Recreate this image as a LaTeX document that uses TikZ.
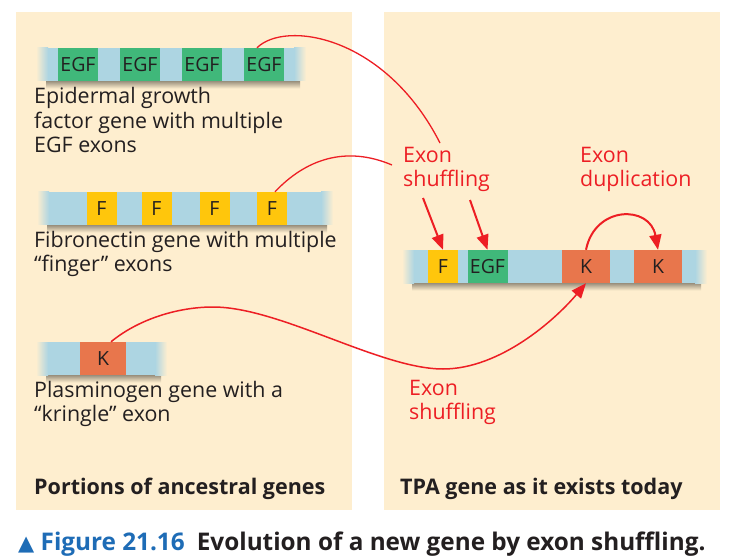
\documentclass[tikz,border=0pt]{standalone}
\usepackage{fontspec}
\setmainfont{Open Sans}
\newfontfamily\symfont{DejaVu Sans}
\usetikzlibrary{arrows.meta,positioning}

\begin{document}
\begin{tikzpicture}[x=1pt,y=-1pt,
  exon/.style={inner sep=0pt,minimum height=33pt,text=ink,font=\fontsize{19.5}{22}\selectfont},
  desc/.style={anchor=north west,align=left,inner sep=0pt,text=ink,font=\fontsize{21.4}{24.2}\selectfont},
  redlabel/.style={desc,text=shufred},
  panelname/.style={anchor=north west,inner sep=0pt,text=ink,font=\bfseries\fontsize{21.5}{24}\selectfont},
  shuffle/.style={draw=shufred,line width=1.3pt},
  push/.style={draw=shufred,line width=2pt,-{Triangle[length=15pt,width=12pt]}}]
% Define gene colours
\definecolor{panel}{RGB}{254,238,207}
\definecolor{barblue}{RGB}{173,213,226}
\definecolor{egfgreen}{RGB}{64,184,122}
\definecolor{fyellow}{RGB}{255,198,12}
\definecolor{kringle}{RGB}{232,118,76}
\definecolor{shufred}{RGB}{237,30,36}
\definecolor{figblue}{RGB}{30,108,182}
\definecolor{ink}{RGB}{35,31,32}

% Page and panels
\fill[white] (0,0) rectangle (736,556);
\fill[panel] (16,12) rectangle (352,510);
\fill[panel] (384,12) rectangle (720,510);

% Gene bars with soft ends and shadow
\foreach \xa/\xb/\yc in {36/306/64.5, 37/333/208.5, 36/167/358.5, 402/707/266.5} {
  \shade[top color=black!40!panel,bottom color=panel] (\xa+10,\yc+16.5) rectangle (\xb-6,\yc+24);
  \shade[left color=panel,right color=barblue] (\xa,\yc-16.5) rectangle (\xa+12,\yc+16.5);
  \fill[barblue] (\xa+12,\yc-16.5) rectangle (\xb-12,\yc+16.5);
  \shade[left color=barblue,right color=panel] (\xb-12,\yc-16.5) rectangle (\xb,\yc+16.5);
}

% Exons of the ancestral genes
\foreach \cx [count=\i] in {78,140,202,264}
  \node[exon,fill=egfgreen,minimum width=40pt] (e\i) at (\cx,64.5) {EGF};
\foreach \cx [count=\i] in {101.5,156.5,214.5,272}
  \node[exon,fill=fyellow,minimum width=30pt] (f\i) at (\cx,208.5) {F};
\node[exon,fill=kringle,minimum width=46pt] (k) at (103,358.5) {K};

% Exons of the TPA gene
\node[exon,fill=fyellow,minimum width=30pt] (tf) at (443,266.5) {F};
\node[exon,fill=egfgreen,minimum width=40pt] (tegf) at (487.5,266.5) {EGF};
\node[exon,fill=kringle,minimum width=48pt] (tk1) at (586,266.5) {K};
\node[exon,fill=kringle,minimum width=48pt] (tk2) at (658,266.5) {K};

% Descriptions
\node[desc] (egftext) at (34,87.5) {Epidermal growth\\factor gene with multiple\\EGF exons};
\node[desc] (fntext) at (34,231) {Fibronectin gene with multiple\\“finger” exons};
\node[desc] (ktext) at (34,381) {Plasminogen gene with a\\“kringle” exon};
\node[panelname] (lefttitle) at (34,477.5) {Portions of ancestral genes};
\node[panelname] (righttitle) at (400,477.5) {TPA gene as it exists today};

% Red labels
\node[redlabel] (shufA) at (403,147) {Exon\\shuffling};
\node[redlabel] (dup) at (580,147) {Exon\\duplication};
\node[redlabel] (shufB) at (409,380) {Exon\\shuffling};

% Ends of the paths at the label
\coordinate (egfend) at (440,143);
\coordinate (fnend) at (392,165);
\coordinate (ftail) at (423,198);
\coordinate (egftail) at (470,200);

% Shuffling and duplication paths
\draw[shuffle] ([xshift=-7pt]e4.north) .. controls (285,20) and (385,35) .. (egfend);
\draw[shuffle] ([xshift=3pt]f4.north) .. controls (305,160) and (345,145) .. (fnend);
\draw[push] (ftail) -- (tf.north);
\draw[push] (egftail) -- (tegf.north);
\draw[push] (tk1.north) .. controls (595,205) and (650,205) .. (tk2.north);
\draw[shuffle,line width=1.5pt,-{Triangle[length=15pt,width=12pt]}] ([xshift=8pt]k.north)
  .. controls (140,318) and (180,307) .. (213,307)
  .. controls (280,307) and (380,369) .. (443,369)
  .. controls (500,369) and (555,320) .. (tk1.south);

% Caption
\node[anchor=base west,inner sep=0pt,font=\bfseries\fontsize{24.3}{28}\selectfont] (caption) at (18,550)
  {\textcolor{figblue}{{\symfont\fontsize{21}{22}\selectfont ▲} Figure 21.16}\enspace\textcolor{ink}{Evolution of a new gene by exon shuffling.}};
\end{tikzpicture}
\end{document}
